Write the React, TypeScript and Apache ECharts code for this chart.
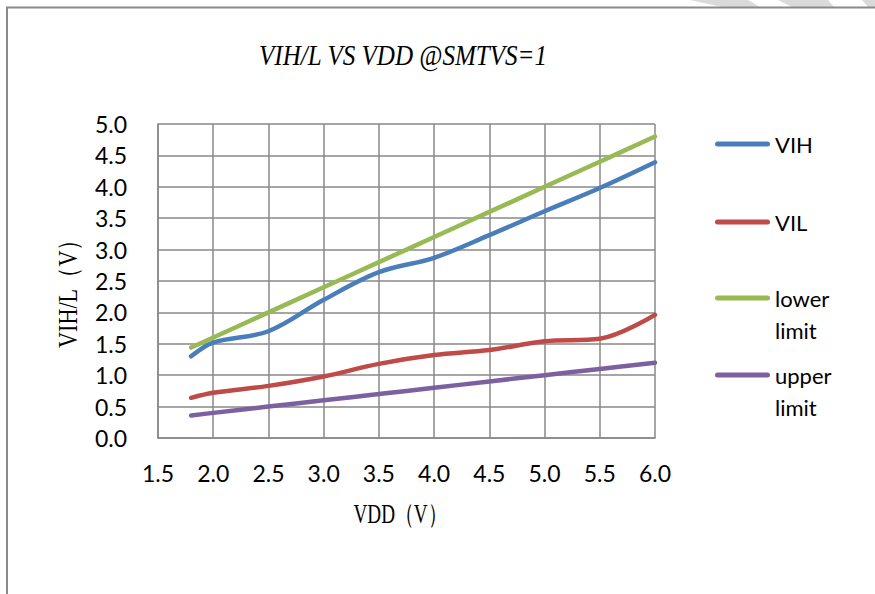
import React, { useEffect, useRef } from "react";
import * as echarts from "echarts";

const vdd = [1.8, 2.0, 2.5, 3.0, 3.5, 4.0, 4.5, 5.0, 5.5, 6.0];
const vih = [1.3, 1.52, 1.7, 2.2, 2.64, 2.87, 3.23, 3.61, 3.98, 4.39];
const vil = [0.64, 0.72, 0.83, 0.98, 1.18, 1.32, 1.4, 1.54, 1.58, 1.96];
const lowerLimit = [1.44, 1.6, 2.0, 2.4, 2.8, 3.2, 3.6, 4.0, 4.4, 4.8];
const upperLimit = [0.36, 0.4, 0.5, 0.6, 0.7, 0.8, 0.9, 1.0, 1.1, 1.2];

const seriesNames = ["VIH", "VIL", "lower limit", "upper limit"];
const seriesColors = ["#4A7EBB", "#BE4B48", "#98B954", "#7D60A0"];
const seriesValues = [vih, vil, lowerLimit, upperLimit];

const titleText = "VIH/L VS VDD @SMTVS=1";
const xName = "VDD（V）";
const yName = "VIH/L（V）";

const legendIcon =
  "path://M2.5,0 L52.5,0 A2.5,2.5 0 0 1 52.5,5 L2.5,5 A2.5,2.5 0 0 1 2.5,0 Z";

export default function App() {
  const ref = useRef<HTMLDivElement>(null);
  useEffect(() => {
    document.body.style.margin = "0";
    if (!ref.current) return;
    const chart = echarts.init(ref.current, null, { renderer: "svg" });
    const legendTops = [128, 206, 250, 327];
    const option: any = {
      animation: false,
      backgroundColor: "#ffffff",
      grid: { left: 158, top: 124, width: 497, height: 314 },
      xAxis: {
        type: "value",
        min: 1.5,
        max: 6,
        interval: 0.5,
        axisLine: { show: true, lineStyle: { color: "#888888", width: 1.5 } },
        axisTick: { show: false },
        splitLine: { show: true, lineStyle: { color: "#888888", width: 1.5 } },
        axisLabel: {
          margin: 23,
          color: "#000",
          fontFamily: "Lato",
          fontSize: 23,
          formatter: (v: number) => v.toFixed(1),
        },
      },
      yAxis: {
        type: "value",
        min: 0,
        max: 5,
        interval: 0.5,
        axisLine: { show: true, lineStyle: { color: "#888888", width: 1.5 } },
        axisTick: { show: false },
        splitLine: { show: true, lineStyle: { color: "#888888", width: 1.5 } },
        axisLabel: {
          margin: 31,
          color: "#000",
          fontFamily: "Lato",
          fontSize: 23,
          formatter: (v: number) => v.toFixed(1),
        },
      },
      legend: seriesNames.map((name, i) => {
        const twoLine = name.includes(" ");
        return {
          data: [name],
          left: 715,
          top: legendTops[i],
          padding: 0,
          orient: "vertical",
          icon: legendIcon,
          itemWidth: 55,
          itemHeight: 5,
          selectedMode: false,
          formatter: (n: string) => (twoLine ? "\u00a0\n" + n.replace(" ", "\n") : n),
          textStyle: {
            color: "#000",
            fontFamily: "Lato",
            fontSize: 22,
            lineHeight: 32,
          },
        };
      }),
      series: seriesNames.map((name, i) => ({
        name,
        type: "line",
        color: seriesColors[i],
        smooth: 0.35,
        showSymbol: false,
        symbol: "none",
        lineStyle: { width: 4.5, color: seriesColors[i], cap: "round", join: "round" },
        data: vdd.map((x, j) => [x, seriesValues[i][j]]),
        z: 3 + (3 - i),
      })),
      graphic: [
        {
          type: "polygon",
          shape: { points: [[690, 0], [748, 0], [760, 7], [722, 7]] },
          style: { fill: "#dadada" },
          silent: true,
        },
        {
          type: "polygon",
          shape: { points: [[778, 0], [828, 0], [834, 7], [792, 7]] },
          style: { fill: "#dadada" },
          silent: true,
        },
        {
          type: "polygon",
          shape: { points: [[862, 0], [875, 0], [875, 7], [868, 7]] },
          style: { fill: "#dadada" },
          silent: true,
        },
        {
          type: "rect",
          shape: { x: 7, y: 7.5, width: 900, height: 700 },
          style: { fill: "none", stroke: "#8a8a8a", lineWidth: 2 },
          silent: true,
        },
        {
          type: "text",
          x: 403,
          y: 55,
          scaleX: 0.88,
          style: {
            text: titleText,
            fontFamily: "Liberation Serif",
            fontStyle: "italic",
            fontSize: 28.5,
            fill: "#000",
            align: "center",
            verticalAlign: "middle",
          },
        },
        {
          type: "text",
          x: 400,
          y: 514,
          scaleX: 0.71,
          style: {
            text: xName,
            fontFamily: "Liberation Serif",
            fontSize: 27,
            fill: "#000",
            align: "center",
            verticalAlign: "middle",
          },
        },
        {
          type: "text",
          x: 67.5,
          y: 288,
          rotation: Math.PI / 2,
          scaleX: 0.82,
          style: {
            text: yName,
            fontFamily: "Liberation Serif",
            fontSize: 27,
            fill: "#000",
            align: "center",
            verticalAlign: "middle",
          },
        },
      ],
    };
    chart.setOption(option);
    return () => chart.dispose();
  }, []);
  return <div ref={ref} style={{ width: 875, height: 594 }} />;
}
